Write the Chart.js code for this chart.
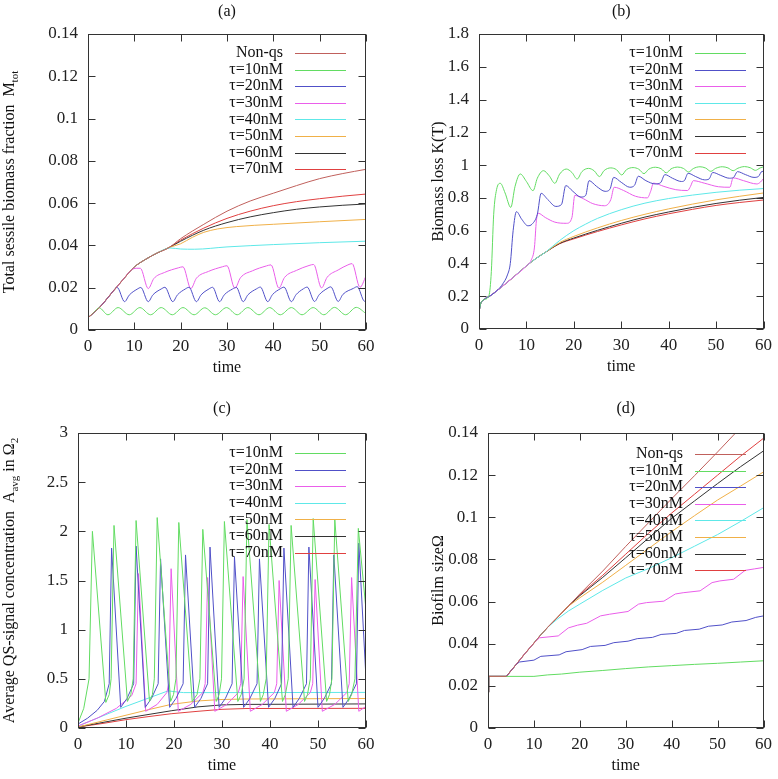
<!DOCTYPE html>
<html>
<head>
<meta charset="utf-8">
<script src="https://cdn.jsdelivr.net/npm/chart.js@4.4.1/dist/chart.umd.min.js"></script>
<style>
  body { margin: 0; background: #fff; }
  canvas { position: absolute; left: 0; top: 0; }
</style>
</head>
<body>
<canvas id="chartA" width="778" height="779"></canvas>
<canvas id="chartB" width="778" height="779"></canvas>
<canvas id="chartC" width="778" height="779"></canvas>
<canvas id="chartD" width="778" height="779"></canvas>
<script>
// ---- tick labels ----
const timeTicks = [0, 10, 20, 30, 40, 50, 60];
const aTicks = [0, 0.02, 0.04, 0.06, 0.08, 0.1, 0.12, 0.14];
const bTicks = [0, 0.2, 0.4, 0.6, 0.8, 1, 1.2, 1.4, 1.6, 1.8];
const cTicks = [0, 0.5, 1, 1.5, 2, 2.5, 3];
const dTicks = [0, 0.02, 0.04, 0.06, 0.08, 0.1, 0.12, 0.14];

const seriesNames = ['Non-qs', 'τ=10nM', 'τ=20nM', 'τ=30nM', 'τ=40nM', 'τ=50nM', 'τ=60nM', 'τ=70nM'];

// ---- (a) total sessile biomass fraction, [time, value] ----
const aCommon = [[0,0.0058],[2.5,0.0107],[5,0.0172],[7.5,0.0237],[10,0.0298],[12.5,0.0335],[15,0.0365],[17.5,0.039]];
const aNonQs = [[20,0.0432],[25,0.0500],[30,0.0562],[35,0.0610],[40,0.0647],[45,0.0683],[50,0.0716],[55,0.0740],[60,0.0760]];
const aT70 = [[20,0.0425],[25,0.0482],[30,0.0528],[35,0.0562],[40,0.0588],[45,0.0607],[50,0.0621],[55,0.0633],[60,0.0643]];
const aT60 = [[20,0.0420],[25,0.0472],[30,0.0508],[35,0.0535],[40,0.0555],[45,0.0571],[50,0.0582],[55,0.0590],[60,0.0596]];
const aT50 = [[20,0.0408],[22.5,0.0438],[25,0.0462],[28,0.0478],[32,0.0489],[40,0.0500],[50,0.0512],[60,0.0523]];
const aT40 = [[0,0.0058],[2.5,0.0107],[5,0.0172],[7.5,0.0237],[10,0.0298],[12.5,0.0335],[15,0.0365],[17.7,0.0388],[20,0.0383],[23,0.0382],[30,0.0393],[40,0.0404],[50,0.0413],[60,0.042]];
const aT30 = [[0,0.0058],[2.5,0.0107],[5,0.0172],[7.5,0.0237],[9.4,0.0284],[10.4,0.0292],[11.3,0.0292],[13.0,0.0196],[14.2,0.0243],[16.5,0.0272],[19.5,0.0294],[20.5,0.0299],[22.2,0.0196],[23.4,0.0245],[26,0.0277],[29,0.0299],[30.0,0.0304],[31.7,0.0197],[32.9,0.0247],[35.5,0.028],[38.5,0.0303],[39.5,0.0308],[41.2,0.0198],[42.4,0.0248],[45,0.0282],[47.7,0.0305],[48.7,0.031],[50.4,0.0199],[51.6,0.0249],[54,0.0284],[56.1,0.0308],[57.0,0.0314],[58.7,0.0202],[60,0.0255]];
const aT20 = [[0,0.0058],[2.5,0.0107],[5,0.0172],[5.7,0.0192],[6.3,0.0201],[7.9,0.0134],[8.9,0.0165],[10.6,0.0193],[11.4,0.0201],[13.0,0.0134],[14.0,0.0166],[15.8,0.0194],[16.6,0.0202],[18.3,0.0134],[19.3,0.0166],[21.0,0.0194],[21.8,0.0202],[23.4,0.0134],[24.4,0.0166],[26.1,0.0194],[26.9,0.0202],[28.4,0.0134],[29.4,0.0166],[31.2,0.0194],[32,0.0202],[33.5,0.0134],[34.5,0.0166],[36.4,0.0195],[37.2,0.0203],[38.8,0.0134],[39.8,0.0167],[41.5,0.0195],[42.3,0.0203],[43.9,0.0134],[44.9,0.0167],[46.5,0.0195],[47.3,0.0203],[48.9,0.0135],[49.9,0.0167],[51.6,0.0196],[52.4,0.0204],[54.0,0.0135],[55,0.0168],[57.3,0.0197],[58.1,0.0205],[59.7,0.0136],[60,0.0142]];
const aT10 = [[0,0.0058],[1.2,0.0082],[2.4,0.0105],[4.3,0.0072],[6.5,0.0106],[8.9,0.0072],[11.2,0.0106],[13.5,0.0072],[15.8,0.0106],[18.2,0.0072],[20.5,0.0106],[22.9,0.0072],[25.2,0.0105],[27.5,0.0072],[29.9,0.0106],[32.2,0.0072],[34.5,0.0106],[36.9,0.0072],[39.2,0.0106],[41.5,0.0072],[43.9,0.0106],[46.2,0.0072],[48.6,0.0106],[50.9,0.0072],[53.2,0.0107],[55.6,0.0072],[57.9,0.0107],[60,0.0078]];

// ---- (b) biomass loss K(T) ----
const bCommon = [[0,0.1],[0.3,0.15],[1,0.178],[2.5,0.205],[5,0.262],[7,0.31],[10,0.385],[12,0.43],[14,0.468]];
const bT70 = [[17,0.52],[20,0.55],[25,0.595],[30,0.635],[35,0.672],[40,0.703],[45,0.73],[50,0.754],[55,0.772],[60,0.787]];
const bT60 = [[17,0.522],[20,0.555],[25,0.602],[30,0.645],[35,0.683],[40,0.714],[45,0.742],[50,0.766],[55,0.786],[60,0.803]];
const bT50 = [[17,0.527],[20,0.565],[25,0.617],[30,0.662],[35,0.7],[40,0.733],[45,0.762],[50,0.788],[55,0.81],[60,0.83]];
const bT40 = [[17,0.54],[20,0.6],[22.5,0.64],[25,0.675],[30,0.728],[35,0.768],[40,0.796],[45,0.817],[50,0.834],[55,0.847],[60,0.857]];
const bT30 = [[0,0.1],[0.3,0.15],[1,0.178],[2.5,0.205],[5,0.262],[7,0.31],[10,0.385],[11,0.42],[11.7,0.5],[12.1,0.66],[12.5,0.706],[14,0.68],[16,0.652],[18.5,0.645],[19.6,0.68],[20.2,0.815],[22,0.795],[24,0.765],[26.5,0.752],[27.8,0.79],[28.5,0.865],[30.5,0.845],[33,0.81],[35.5,0.80],[36.2,0.84],[36.8,0.89],[39,0.87],[41.5,0.85],[44,0.845],[44.6,0.87],[45.2,0.905],[47.5,0.89],[50.5,0.868],[52.9,0.865],[53.6,0.922],[55.8,0.905],[58.6,0.885],[59.3,0.895],[60,0.918]];
const bT20 = [[0,0.1],[0.3,0.15],[1,0.178],[2.5,0.205],[4,0.24],[5,0.275],[6,0.33],[6.6,0.4],[7.2,0.6],[7.9,0.716],[9,0.67],[10.3,0.63],[11.2,0.64],[12.3,0.7],[13.1,0.828],[14.5,0.79],[16.2,0.748],[17.4,0.76],[18.3,0.875],[19.8,0.84],[21.5,0.805],[22.5,0.815],[23.2,0.905],[24.8,0.87],[26.6,0.84],[27.6,0.852],[28.4,0.925],[30,0.895],[31.8,0.865],[32.8,0.877],[33.6,0.932],[35.2,0.905],[37.2,0.885],[38.3,0.893],[39.2,0.942],[40.8,0.92],[42.7,0.9],[43.3,0.905],[44.1,0.95],[45.7,0.93],[47.6,0.91],[48.5,0.915],[49.3,0.955],[51,0.937],[52.8,0.92],[53.7,0.925],[54.5,0.96],[56.2,0.942],[58,0.925],[58.9,0.93],[59.7,0.962],[60,0.96]];
const bT10 = [[0,0.1],[0.3,0.15],[1,0.178],[2.1,0.205],[2.6,0.35],[3.1,0.7],[3.7,0.85],[4.5,0.889],[5.5,0.83],[6.7,0.742],[7.6,0.87],[8.7,0.946],[10,0.9],[11.4,0.844],[12.3,0.92],[13.6,0.966],[14.8,0.935],[16.0,0.889],[17,0.945],[18.4,0.976],[19.6,0.955],[20.7,0.915],[21.7,0.96],[23.1,0.98],[24.3,0.965],[25.4,0.93],[26.4,0.967],[27.8,0.983],[29,0.972],[30.1,0.94],[31.1,0.972],[32.5,0.985],[33.7,0.975],[34.8,0.948],[35.8,0.975],[37.2,0.987],[38.4,0.978],[39.5,0.953],[40.5,0.977],[41.9,0.988],[43.1,0.98],[44.2,0.958],[45.2,0.979],[46.6,0.99],[47.8,0.982],[48.9,0.962],[49.9,0.98],[51.3,0.99],[52.5,0.983],[53.6,0.966],[54.6,0.981],[56,0.991],[57.2,0.984],[58.3,0.968],[59.3,0.983],[60,0.99]];

// ---- (c) average QS-signal concentration ----
const cT10 = [[0,0.05],[1.2,0.2],[2.3,0.5],[3.0,2.0],[5.8,0.26],[6.5,0.34],[6.9,0.5],[7.5,2.06],[10.3,0.27],[11.0,0.34],[11.5,0.5],[12.1,2.11],[14.9,0.27],[15.5,0.34],[15.9,0.5],[16.5,2.14],[19.3,0.27],[19.9,0.34],[20.4,0.5],[21.0,2.09],[23.8,0.27],[24.8,0.34],[25.4,0.5],[26.0,2.02],[28.8,0.27],[29.4,0.34],[29.9,0.5],[30.5,2.1],[33.3,0.27],[34.0,0.34],[34.6,0.5],[35.2,2.12],[38.0,0.27],[38.6,0.34],[39.2,0.5],[39.8,2.07],[42.6,0.27],[43.2,0.34],[43.8,0.5],[44.4,2.06],[47.2,0.27],[47.8,0.34],[48.4,0.5],[49.0,2.13],[51.8,0.27],[52.4,0.34],[52.9,0.5],[53.5,2.12],[56.3,0.27],[57.0,0.34],[57.7,0.5],[58.4,2.03],[60,1.2]];
const cT20 = [[0,0.04],[2,0.1],[4,0.18],[5.5,0.27],[6.5,0.45],[7.0,1.83],[8.9,0.21],[10.2,0.3],[11.6,0.45],[12.1,1.85],[14.0,0.21],[15.3,0.3],[16.7,0.45],[17.2,1.72],[19.1,0.21],[20.4,0.3],[21.9,0.45],[22.4,1.76],[24.3,0.21],[25.6,0.3],[27.0,0.45],[27.5,1.84],[29.4,0.21],[30.7,0.3],[32.1,0.45],[32.6,1.74],[34.5,0.21],[35.8,0.3],[37.3,0.45],[37.8,1.72],[39.7,0.21],[41.0,0.3],[42.4,0.45],[42.9,1.83],[44.8,0.21],[46.1,0.3],[47.6,0.45],[48.1,1.84],[50.0,0.21],[51.3,0.3],[52.8,0.45],[53.3,1.76],[55.2,0.21],[56.5,0.3],[58.0,0.45],[58.5,1.88],[60,0.5]];
const cT30 = [[0,0.02],[4,0.1],[8,0.2],[11.2,0.33],[12.1,0.45],[12.6,1.57],[14.1,0.17],[16.5,0.24],[18.5,0.36],[18.9,0.45],[19.4,1.62],[20.9,0.17],[23.5,0.24],[26,0.36],[26.5,0.45],[27.0,1.53],[28.5,0.17],[31,0.24],[33.4,0.36],[33.9,0.45],[34.4,1.54],[35.9,0.17],[38.4,0.24],[40.9,0.36],[41.4,0.45],[41.9,1.5],[43.4,0.17],[45.9,0.24],[48.4,0.36],[48.9,0.45],[49.4,1.51],[50.9,0.17],[53.5,0.24],[56,0.36],[56.5,0.45],[57.0,1.53],[58.5,0.17],[60,0.22]];
const cT40 = [[0,0.02],[5,0.12],[10,0.22],[15,0.31],[18.8,0.378],[20,0.37],[22,0.36],[30,0.36],[60,0.362]];
const cT50 = [[0,0.01],[5,0.07],[10,0.13],[15,0.19],[19.4,0.24],[25,0.275],[30,0.29],[35,0.295],[60,0.3]];
const cT60 = [[0,0.01],[5,0.055],[10,0.1],[15,0.14],[19.4,0.175],[25,0.215],[30,0.235],[35,0.24],[60,0.245]];
const cT70 = [[0,0.01],[5,0.045],[10,0.085],[15,0.118],[19.4,0.145],[25,0.17],[30,0.19],[35,0.198],[60,0.2]];

// ---- (d) biofilm size ----
const dCommon = [[0,0.017],[0.15,0.0245],[4,0.0245],[6,0.0298],[8,0.0352],[10,0.0403],[11.5,0.0442],[13,0.0478],[15,0.0522],[17.5,0.0578]];
const dNonQs = [[20,0.0636],[25,0.0745],[30,0.0862],[35,0.0975],[40,0.1088],[45,0.1198],[50,0.131],[55,0.1425],[60,0.154]];
const dT70 = [[20,0.0632],[25,0.0725],[30,0.0825],[35,0.0925],[40,0.1020],[45,0.1110],[50,0.1200],[55,0.1290],[60,0.1375]];
const dT60 = [[20,0.0628],[25,0.0715],[30,0.0808],[35,0.0902],[40,0.0995],[45,0.1078],[50,0.1160],[55,0.1240],[60,0.1315]];
const dT50 = [[20,0.0618],[25,0.0692],[30,0.0772],[35,0.0852],[40,0.0932],[45,0.1008],[50,0.1082],[55,0.1148],[60,0.1215]];
const dT40 = [[0,0.017],[0.15,0.0245],[4,0.0245],[6,0.0298],[8,0.0352],[10,0.0403],[11.5,0.0442],[13,0.0478],[15,0.0515],[17.5,0.0555],[20,0.0588],[25,0.0653],[30,0.0712],[35,0.0757],[40,0.0808],[45,0.0863],[50,0.0918],[55,0.098],[60,0.1045]];
const dT30 = [[0,0.017],[0.15,0.0245],[4,0.0245],[6,0.0298],[8,0.0352],[10,0.0403],[11.2,0.0428],[15.3,0.0437],[17.5,0.0475],[19.5,0.0488],[21.5,0.0497],[24.5,0.0532],[26.5,0.0540],[30.5,0.0553],[32.8,0.0588],[34.5,0.0595],[38.3,0.0602],[40.8,0.0636],[42.5,0.0642],[46.2,0.0651],[48.8,0.0690],[50.5,0.0698],[53.5,0.0706],[56,0.0748],[58,0.0755],[60,0.0762]];
const dT20 = [[0,0.017],[0.15,0.0245],[4,0.0245],[6,0.0298],[6.8,0.0313],[10,0.0322],[11.5,0.034],[15.5,0.0347],[17,0.0362],[20.5,0.0372],[22.3,0.0387],[25.5,0.0392],[27.4,0.0405],[30.5,0.0412],[32.5,0.0424],[35.8,0.043],[37.7,0.0444],[41,0.0449],[42.8,0.0463],[46,0.0469],[48,0.0483],[51,0.0489],[53.1,0.0503],[56.2,0.051],[58.3,0.0525],[60,0.0532]];
const dT10 = [[0,0.017],[0.15,0.0245],[10,0.0245],[13,0.0252],[16,0.0256],[20,0.0265],[25,0.0273],[30,0.0282],[35,0.029],[40,0.0296],[45,0.0302],[50,0.0307],[55,0.0313],[60,0.0319]];

const colors = {
  'Non-qs': '#c0605c',
  'τ=10nM': '#62dc62',
  'τ=20nM': '#5050c8',
  'τ=30nM': '#ea5eea',
  'τ=40nM': '#5ee8e8',
  'τ=50nM': '#f0b048',
  'τ=60nM': '#333333',
  'τ=70nM': '#e04040'
};

Chart.defaults.font.family = "'Liberation Serif', 'DejaVu Serif', serif";
Chart.defaults.font.size = 17;
Chart.defaults.color = '#222';

const fontMain = "16px 'Liberation Serif', serif";
const fontSub = "11px 'Liberation Serif', serif";

function fmt(v) { return String(+v.toFixed(4)); }

// gnuplot-like frame, inward ticks, key, titles
function decor(p) {
  return {
    id: 'decor',
    afterDatasetsDraw(chart) {
      const { ctx, chartArea: a, scales: { x, y } } = chart;
      ctx.save();
      ctx.strokeStyle = '#333';
      ctx.lineWidth = 1;
      const L = Math.round(a.left) + 0.5, R = Math.round(a.right) - 0.5;
      const T = Math.round(a.top) + 0.5, B = Math.round(a.bottom) - 0.5;
      ctx.strokeRect(L, T, R - L, B - T);
      ctx.beginPath();
      timeTicks.forEach(v => {
        const px = Math.round(x.getPixelForValue(v)) + 0.5;
        ctx.moveTo(px, B); ctx.lineTo(px, B - 7);
        ctx.moveTo(px, T); ctx.lineTo(px, T + 7);
      });
      p.yTicks.forEach(v => {
        const py = Math.round(y.getPixelForValue(v)) + 0.5;
        ctx.moveTo(L, py); ctx.lineTo(L + 7, py);
        ctx.moveTo(R, py); ctx.lineTo(R - 7, py);
      });
      ctx.stroke();

      // key
      ctx.font = fontMain;
      ctx.textBaseline = 'middle';
      ctx.textAlign = 'right';
      p.keys.forEach((name, i) => {
        const yy = p.keyY + i * 16.6;
        ctx.fillStyle = '#111';
        ctx.fillText(name, p.keyX, yy);
        ctx.strokeStyle = colors[name];
        ctx.beginPath();
        ctx.moveTo(p.keyX + 12, Math.round(yy) + 0.5);
        ctx.lineTo(p.keyX + 63, Math.round(yy) + 0.5);
        ctx.stroke();
      });

      // titles
      ctx.fillStyle = '#111';
      ctx.textAlign = 'center';
      const cx = (a.left + a.right) / 2;
      ctx.fillText(p.title, cx, p.titleY);
      ctx.fillText('time', cx, a.bottom + 38);

      // y axis title with subscripts, rotated
      const parts = p.yTitle;
      let total = 0;
      parts.forEach(s => { ctx.font = s.sub ? fontSub : fontMain; s.w = ctx.measureText(s.t).width; total += s.w; });
      ctx.translate(p.yTitleX, (a.top + a.bottom) / 2);
      ctx.rotate(-Math.PI / 2);
      ctx.textAlign = 'left';
      ctx.textBaseline = 'alphabetic';
      let xx = -total / 2;
      parts.forEach(s => {
        ctx.font = s.sub ? fontSub : fontMain;
        ctx.fillText(s.t, xx, s.sub ? 4 : 0);
        xx += s.w;
      });
      ctx.restore();
    }
  };
}

function toXY(arr) { return arr.map(([t, v]) => ({ x: t, y: v })); }

function makePanel(id, p) {
  const W = 778, H = 779, xAxisH = 40;
  new Chart(document.getElementById(id), {
    type: 'line',
    data: {
      datasets: p.series.map(s => ({
        label: s.name,
        data: toXY(s.data),
        borderColor: colors[s.name],
        borderWidth: 1,
        pointRadius: 0,
        fill: false,
        tension: p.smooth ? 0.4 : 0,
        cubicInterpolationMode: p.smooth ? 'monotone' : 'default'
      }))
    },
    options: {
      responsive: false,
      animation: false,
      events: [],
      layout: {
        padding: { left: 0, top: p.area.top, right: W - p.area.right, bottom: H - p.area.bottom - xAxisH }
      },
      plugins: { legend: { display: false }, tooltip: { enabled: false } },
      scales: {
        x: {
          type: 'linear', min: 0, max: 60,
          grid: { display: false, drawTicks: false },
          border: { display: false },
          afterBuildTicks: s => { s.ticks = timeTicks.map(v => ({ value: v })); },
          afterFit: s => { s.height = xAxisH; },
          ticks: { padding: 6, maxRotation: 0, autoSkip: false, callback: v => fmt(v) }
        },
        y: {
          type: 'linear', min: p.yTicks[0], max: p.yTicks[p.yTicks.length - 1],
          grid: { display: false, drawTicks: false },
          border: { display: false },
          afterBuildTicks: s => { s.ticks = p.yTicks.map(v => ({ value: v })); },
          afterFit: s => { s.width = p.area.left; },
          ticks: { padding: 10, autoSkip: false, callback: v => fmt(v) }
        }
      }
    },
    plugins: [decor(p)]
  });
}

makePanel('chartA', {
  area: { left: 88, top: 34, right: 366, bottom: 330 },
  yTicks: aTicks, smooth: true, title: '(a)', titleY: 12, yTitleX: 14,
  yTitle: [{ t: 'Total sessile biomass fraction  M' }, { t: 'tot', sub: true }],
  keyX: 283, keyY: 53, keys: seriesNames,
  series: [
    { name: 'Non-qs', data: aCommon.concat(aNonQs) },
    { name: 'τ=10nM', data: aT10 },
    { name: 'τ=20nM', data: aT20 },
    { name: 'τ=30nM', data: aT30 },
    { name: 'τ=40nM', data: aT40 },
    { name: 'τ=50nM', data: aCommon.concat(aT50) },
    { name: 'τ=60nM', data: aCommon.concat(aT60) },
    { name: 'τ=70nM', data: aCommon.concat(aT70) }
  ]
});

makePanel('chartB', {
  area: { left: 479, top: 34, right: 766, bottom: 329 },
  yTicks: bTicks, smooth: true, title: '(b)', titleY: 12, yTitleX: 443,
  yTitle: [{ t: 'Biomass loss K(T)' }],
  keyX: 683, keyY: 53, keys: seriesNames.slice(1),
  series: [
    { name: 'τ=10nM', data: bT10 },
    { name: 'τ=20nM', data: bT20 },
    { name: 'τ=30nM', data: bT30 },
    { name: 'τ=40nM', data: bCommon.concat(bT40) },
    { name: 'τ=50nM', data: bCommon.concat(bT50) },
    { name: 'τ=60nM', data: bCommon.concat(bT60) },
    { name: 'τ=70nM', data: bCommon.concat(bT70) }
  ]
});

makePanel('chartC', {
  area: { left: 78, top: 433, right: 366, bottom: 728 },
  yTicks: cTicks, smooth: false, title: '(c)', titleY: 409, yTitleX: 14,
  yTitle: [{ t: 'Average QS-signal concentration  A' }, { t: 'avg', sub: true }, { t: ' in Ω' }, { t: '2', sub: true }],
  keyX: 283, keyY: 453, keys: seriesNames.slice(1),
  series: [
    { name: 'τ=10nM', data: cT10 },
    { name: 'τ=20nM', data: cT20 },
    { name: 'τ=30nM', data: cT30 },
    { name: 'τ=40nM', data: cT40 },
    { name: 'τ=50nM', data: cT50 },
    { name: 'τ=60nM', data: cT60 },
    { name: 'τ=70nM', data: cT70 }
  ]
});

makePanel('chartD', {
  area: { left: 488, top: 433, right: 766, bottom: 728 },
  yTicks: dTicks, smooth: false, title: '(d)', titleY: 409, yTitleX: 443,
  yTitle: [{ t: 'Biofilm sizeΩ' }],
  keyX: 683, keyY: 454, keys: seriesNames,
  series: [
    { name: 'Non-qs', data: dCommon.concat(dNonQs) },
    { name: 'τ=10nM', data: dT10 },
    { name: 'τ=20nM', data: dT20 },
    { name: 'τ=30nM', data: dT30 },
    { name: 'τ=40nM', data: dT40 },
    { name: 'τ=50nM', data: dCommon.concat(dT50) },
    { name: 'τ=60nM', data: dCommon.concat(dT60) },
    { name: 'τ=70nM', data: dCommon.concat(dT70) }
  ]
});
</script>
</body>
</html>
